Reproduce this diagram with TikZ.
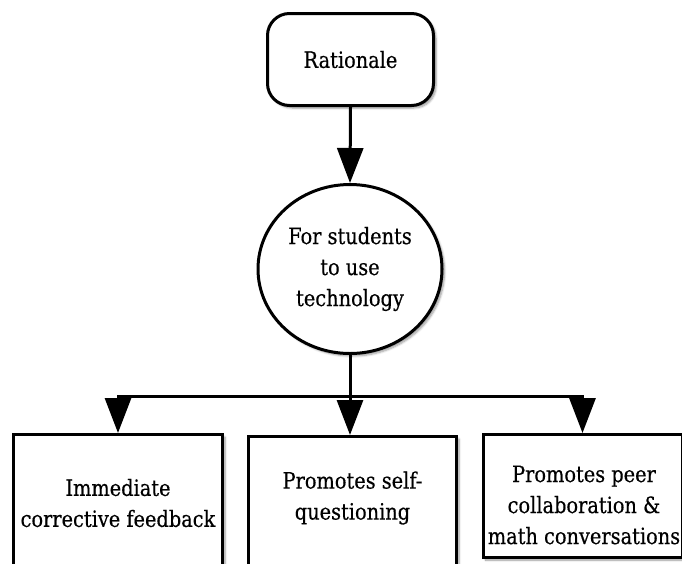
\documentclass[tikz,border=0pt]{standalone}
\usepackage{fontspec}
\setmainfont{DejaVu Serif}[FakeStretch=0.86, FakeBold=0.4]
\usetikzlibrary{arrows.meta,shapes.geometric,shadows.blur}

\tikzset{
  shade/.style={blur shadow={shadow xshift=2.5pt, shadow yshift=-2.5pt,
                shadow blur steps=6, shadow opacity=40}},
  shapeline/.style={draw=black, line width=3pt, fill=white, shade},
  startbox/.style={shapeline, rounded corners=22pt,
                   minimum width=166pt, minimum height=92pt},
  hub/.style={shapeline, ellipse, minimum width=184pt, minimum height=169pt,
              inner sep=0pt},
  leafbox/.style={shapeline, rectangle, inner sep=0pt},
  label/.style={align=center, font=\fontsize{22.5}{31}\selectfont, text=black},
  conn/.style={line width=3pt, draw=black},
  arr/.style={conn, -{Triangle[length=35pt,width=26pt]}},
}

\begin{document}
\begin{tikzpicture}[x=1pt,y=-1pt]
  \useasboundingbox (0,0) rectangle (682,563);

  % top of the chart
  \node[startbox, label] (rat) at (350.5,59.5) {Rationale};
  \node[hub, label] (hub) at (350,269) {For students\\to use\\technology};

  % the three outcome boxes
  \node[leafbox, minimum width=209pt, minimum height=140pt] (b1) at (118,504.5) {};
  \node[leafbox, minimum width=208pt, minimum height=140pt] (b2) at (352.5,506.5) {};
  \node[leafbox, minimum width=199pt, minimum height=123pt] (b3) at (582.5,496) {};

  \node[label] (t1) at (118,503) {Immediate\\corrective feedback};
  \node[label] (t2) at (352.5,498) {Promotes self-\\questioning};
  \node[label] (t3) at (584,505) {Promotes peer\\collaboration \&\\math conversations};

  % connectors
  \draw[arr] (rat.south) -- (hub.north);
  \coordinate (split) at (350,396);
  \draw[arr] (hub.south) -- (hub.south |- b2.north);
  \draw[arr] (split) -| (b1.north);
  \draw[arr] (split) -| (b3.north);
\end{tikzpicture}
\end{document}
